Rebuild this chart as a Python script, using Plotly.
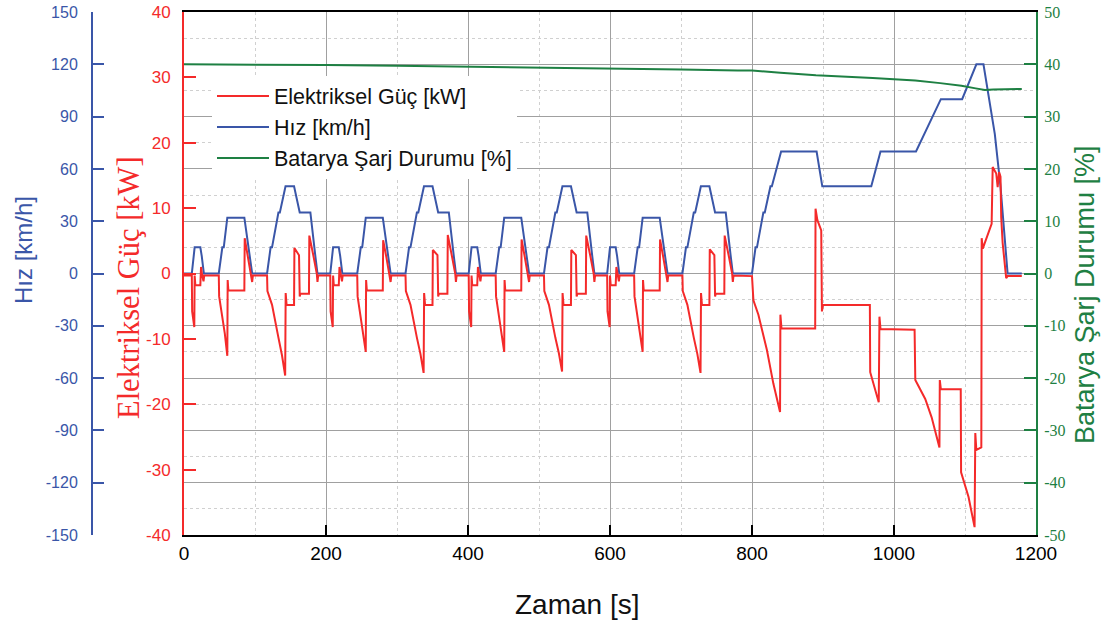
import plotly.graph_objects as go

# ---------------- data ----------------
# Vehicle speed (NEDC) breakpoints [s], [km/h]
speed_t = [0, 11, 15, 23, 25, 28, 49, 54, 56, 61, 85, 93, 96, 117, 122, 124, 133, 135, 143, 155, 163, 176, 178, 185, 188,
           195, 206, 210, 218, 220, 223, 244, 249, 251, 256, 280, 288, 291, 312, 317, 319, 328, 330, 338, 350, 358, 371, 373, 380, 383,
           390, 401, 405, 413, 415, 418, 439, 444, 446, 451, 475, 483, 486, 507, 512, 514, 523, 525, 533, 545, 553, 566, 568, 575, 578,
           585, 596, 600, 608, 610, 613, 634, 639, 641, 646, 670, 678, 681, 702, 707, 709, 718, 720, 728, 740, 748, 761, 763, 770, 773,
           780, 800, 805, 807, 816, 818, 826, 828, 841, 891, 899, 968, 981, 1031, 1066, 1096, 1116, 1126, 1142, 1150, 1160, 1180]
speed_v = [0, 0, 15, 15, 10, 0, 0, 15, 15, 32, 32, 10, 0, 0, 15, 15, 35, 35, 50, 50, 35, 35, 35, 10, 0,
           0, 0, 15, 15, 10, 0, 0, 15, 15, 32, 32, 10, 0, 0, 15, 15, 35, 35, 50, 50, 35, 35, 35, 10, 0,
           0, 0, 15, 15, 10, 0, 0, 15, 15, 32, 32, 10, 0, 0, 15, 15, 35, 35, 50, 50, 35, 35, 35, 10, 0,
           0, 0, 15, 15, 10, 0, 0, 15, 15, 32, 32, 10, 0, 0, 15, 15, 35, 35, 50, 50, 35, 35, 35, 10, 0,
           0, 0, 15, 15, 35, 35, 50, 50, 70, 70, 50, 50, 70, 70, 100, 100, 120, 120, 80, 50, 0, 0]

# Electric power [s], [kW]
power_t = [0, 11, 11.5, 14.5, 15, 16, 23, 24, 25.5, 27.5, 28.5, 49, 49.5, 53, 57.5, 61, 61.5, 62.5, 85, 85.5, 90, 94.5, 96, 97,
           117, 117.5, 124, 133, 138, 142.5, 143.2, 144.5, 155, 155.5, 162, 163, 164, 176, 176.5, 183, 187, 188, 189,
           206, 206.5, 209.5, 210, 211, 218, 219, 220.5, 222.5, 223.5, 244, 244.5, 248, 252.5, 256, 256.5, 257.5, 280, 280.5, 285, 289.5, 291, 292,
           312, 312.5, 319, 328, 333, 337.5, 338.2, 339.5, 350, 350.5, 357, 358, 359, 371, 371.5, 378, 382, 383, 384,
           401, 401.5, 404.5, 405, 406, 413, 414, 415.5, 417.5, 418.5, 439, 439.5, 443, 447.5, 451, 451.5, 452.5, 475, 475.5, 480, 484.5, 486, 487,
           507, 507.5, 514, 523, 528, 532.5, 533.2, 534.5, 545, 545.5, 552, 553, 554, 566, 566.5, 573, 577, 578, 579,
           596, 596.5, 599.5, 600, 601, 608, 609, 610.5, 612.5, 613.5, 634, 634.5, 638, 642.5, 646, 646.5, 647.5, 670, 670.5, 675, 679.5, 681, 682,
           702, 702.5, 709, 718, 723, 727.5, 728.2, 729.5, 740, 740.5, 747, 748, 749, 761, 761.5, 768, 772, 773, 774,
           800, 802, 809, 821, 830, 839.5, 840, 841.5, 889, 889.5, 892, 897.5, 898.5, 900, 966, 966.5, 978.5, 979.5, 981,
           1029, 1030, 1044, 1053, 1064, 1064.5, 1066, 1094, 1094.5, 1105, 1113.5, 1114.5, 1116, 1123, 1123.5, 1125, 1137.5, 1139,
           1144, 1146, 1148, 1150, 1151, 1153, 1156, 1158, 1160, 1180]
power_v = [-0.3, -0.3, -5.8, -8.2, -0.3, -1.8, -1.8, 1.0, -0.2, -1.2, -0.3, -0.3, -3.5, -6.0, -9.2, -12.6, -1.0, -2.6, -2.6, 5.4, 2.5, 0.0, -1.3, -0.3,
           -0.3, -2.7, -4.8, -9.8, -12.5, -15.6, -3.0, -4.8, -4.8, 3.9, 2.8, -3.5, -3.1, -3.1, 5.8, 2.3, 0.0, -1.3, -0.3,
           -0.3, -5.8, -8.2, -0.3, -1.8, -1.8, 1.0, -0.2, -1.2, -0.3, -0.3, -3.5, -6.0, -9.0, -12.0, -1.0, -2.6, -2.6, 5.1, 2.5, 0.0, -1.3, -0.3,
           -0.3, -2.7, -4.8, -9.8, -12.3, -15.2, -3.0, -4.8, -4.8, 3.6, 2.8, -3.5, -3.1, -3.1, 5.9, 2.3, 0.0, -1.3, -0.3,
           -0.3, -5.8, -8.2, -0.3, -1.8, -1.8, 1.0, -0.2, -1.2, -0.3, -0.3, -3.5, -6.0, -9.0, -12.0, -1.0, -2.6, -2.6, 5.2, 2.5, 0.0, -1.3, -0.3,
           -0.3, -2.7, -4.8, -9.8, -12.2, -15.0, -3.0, -4.8, -4.8, 3.6, 2.8, -3.5, -3.1, -3.1, 5.8, 2.3, 0.0, -1.3, -0.3,
           -0.3, -5.8, -8.2, -0.3, -1.8, -1.8, 1.0, -0.2, -1.2, -0.3, -0.3, -3.5, -6.0, -9.0, -12.0, -1.0, -2.6, -2.6, 5.2, 2.5, 0.0, -1.3, -0.3,
           -0.3, -2.7, -4.8, -9.8, -12.3, -15.2, -3.0, -4.8, -4.8, 3.7, 2.8, -3.5, -3.1, -3.1, 5.8, 2.3, 0.0, -1.3, -0.3,
           -0.4, -4.1, -6.3, -11.7, -16.8, -21.2, -6.3, -8.4, -8.4, 9.9, 8.2, 6.6, -5.8, -4.8, -4.8, -15.1, -19.7, -6.6, -8.5,
           -8.6, -16.3, -19.2, -22.0, -26.6, -16.3, -17.7, -17.7, -30.4, -34.2, -38.8, -24.4, -27.0, -26.6, 5.4, 3.8, 7.6, 16.3,
           15.3, 13.2, 15.5, 14.8, 8.6, 4.7, 1.6, -0.7, -0.4, -0.4]

# Battery state of charge [s], [%]
soc_t = [0, 100, 200, 300, 400, 500, 600, 700, 780, 800, 840, 890, 970, 1030, 1065, 1095, 1115, 1128, 1140, 1160, 1180]
soc_v = [40.0, 39.95, 39.85, 39.7, 39.55, 39.4, 39.2, 39.0, 38.8, 38.8, 38.4, 37.9, 37.4, 36.9, 36.4, 35.9, 35.4, 35.1, 35.2, 35.3, 35.3]

# Tick values and labels
x_ticks = [0, 200, 400, 600, 800, 1000, 1200]
speed_ticks = [-150, -120, -90, -60, -30, 0, 30, 60, 90, 120, 150]
power_ticks = [-40, -30, -20, -10, 0, 10, 20, 30, 40]
soc_ticks = [-50, -40, -30, -20, -10, 0, 10, 20, 30, 40, 50]
speed_labels = ["-150", "-120", "-90", "-60", "-30", "0", "30", "60", "90", "120", "150"]
power_labels = ["-40", "-30", "-20", "-10", "0", "10", "20", "30", "40"]
soc_labels = ["-50", "-40", "-30", "-20", "-10", "0", "10", "20", "30", "40", "50"]

RED = "#F42A2A"
BLUE = "#3A56A8"
GREEN = "#1E8043"
GRID = "#A0A0A0"
MINOR = "#D0D0D0"

W, H = 1107, 625
XL, XR = 184, 1036
YT, YB = 12, 535
xdom = [XL / W, XR / W]
ydom = [(H - YB) / H, (H - YT) / H]

fig = go.Figure()
fig.add_trace(go.Scatter(x=power_t, y=power_v, yaxis="y2", mode="lines",
                         line=dict(color=RED, width=2), name="Elektriksel Güç [kW]"))
fig.add_trace(go.Scatter(x=speed_t, y=speed_v, yaxis="y", mode="lines",
                         line=dict(color=BLUE, width=2), name="Hız [km/h]"))
fig.add_trace(go.Scatter(x=soc_t, y=soc_v, yaxis="y3", mode="lines",
                         line=dict(color=GREEN, width=2), name="Batarya Şarj Durumu [%]"))

fig.update_layout(
    width=W, height=H, autosize=False,
    margin=dict(l=0, r=0, t=0, b=0, autoexpand=False),
    paper_bgcolor="white", plot_bgcolor="white",
    font=dict(family="Liberation Sans, Arial, sans-serif"),
    showlegend=True,
    legend=dict(x=212 / W, y=0.879, xanchor="left", yanchor="top",
                bgcolor="white", borderwidth=0,
                font=dict(size=21.5, color="#111111", family="Liberation Sans, Arial, sans-serif"),
                itemwidth=52, tracegroupgap=0),
    xaxis=dict(domain=xdom, range=[0, 1200], tickvals=x_ticks, anchor="y", automargin=False,
               showline=True, linecolor="black", linewidth=2, mirror=True,
               ticks="inside", ticklen=10, tickwidth=2, tickcolor="black",
               tickfont=dict(size=19, color="black"),
               showgrid=True, gridcolor=GRID, gridwidth=1,
               minor=dict(dtick=100, showgrid=True, gridcolor=MINOR, griddash="dot", gridwidth=1, ticks=""),
               zeroline=False),
    yaxis=dict(domain=ydom, range=[-150, 150], tickvals=speed_ticks, ticktext=speed_labels,
               anchor="free", position=92 / W, side="left", automargin=False,
               showline=True, linecolor=BLUE, linewidth=2,
               ticks="inside", ticklen=11, tickwidth=2, tickcolor=BLUE,
               tickfont=dict(size=16, color=BLUE), ticklabelstandoff=10,
               showgrid=True, gridcolor=GRID, gridwidth=1,
               minor=dict(dtick=15, showgrid=True, gridcolor=MINOR, griddash="dot", gridwidth=1, ticks=""),
               zeroline=False),
    yaxis2=dict(range=[-40, 40], tickvals=power_ticks, ticktext=power_labels,
                overlaying="y", anchor="x", side="left", automargin=False,
                showline=True, linecolor=RED, linewidth=2,
                ticks="inside", ticklen=12, tickwidth=2, tickcolor=RED,
                tickfont=dict(size=17, color=RED), ticklabelstandoff=8,
                showgrid=False, zeroline=False),
    yaxis3=dict(range=[-50, 50], tickvals=soc_ticks, ticktext=soc_labels,
                overlaying="y", anchor="x", side="right", automargin=False,
                showline=True, linecolor=GREEN, linewidth=2,
                ticks="inside", ticklen=12, tickwidth=2, tickcolor=GREEN,
                tickfont=dict(size=16, color=GREEN, family="Liberation Serif, Times New Roman, serif"),
                ticklabelstandoff=3,
                showgrid=False, zeroline=False),
)

fig.add_annotation(text="Hız [km/h]", x=23 / W, y=(H - 250) / H, xref="paper", yref="paper",
                   textangle=-90, showarrow=False, xanchor="center", yanchor="middle",
                   font=dict(size=24, color=BLUE))
fig.add_annotation(text="Elektriksel Güç [kW]", x=129 / W, y=(H - 288) / H, xref="paper", yref="paper",
                   textangle=-90, showarrow=False, xanchor="center", yanchor="middle",
                   font=dict(size=30.5, color=RED, family="Liberation Serif, Times New Roman, serif"))
fig.add_annotation(text="Batarya Şarj Durumu [%]", x=1085 / W, y=(H - 295) / H, xref="paper", yref="paper",
                   textangle=-90, showarrow=False, xanchor="center", yanchor="middle",
                   font=dict(size=27, color=GREEN))
fig.add_annotation(text="Zaman [s]", x=577 / W, y=(H - 604) / H, xref="paper", yref="paper",
                   showarrow=False, xanchor="center", yanchor="middle",
                   font=dict(size=28, color="#111111"))

fig.write_html("out.html", config={"displayModeBar": False},
               post_script="document.body.style.margin='0px';")
